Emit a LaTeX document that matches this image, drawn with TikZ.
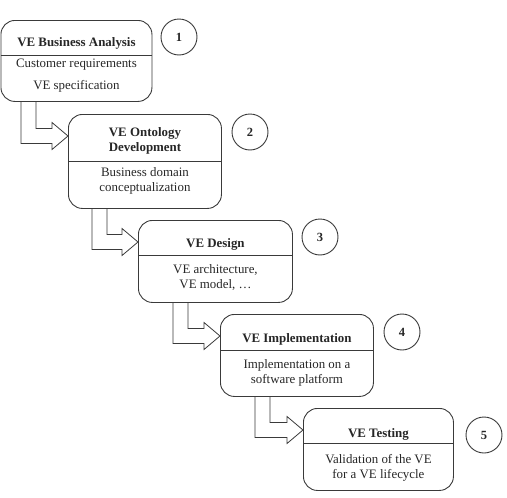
\documentclass[tikz,border=0pt]{standalone}
\usepackage{fontspec}
\setmainfont{Liberation Serif}
\usetikzlibrary{calc}
\definecolor{ln}{HTML}{3A3A3A}
\definecolor{tx}{HTML}{262626}
\tikzset{
  stage/.style={draw=ln, line width=0.9pt, rounded corners=14pt, inner sep=0pt, anchor=north west},
  ttl/.style={font=\fontsize{12.9}{15}\selectfont\bfseries, text=tx, align=center, inner sep=0pt},
  bdy/.style={font=\fontsize{12.9}{15}\selectfont, text=tx, align=center, inner sep=0pt},
  num/.style={draw=ln, line width=0.9pt, circle, minimum size=36pt, inner sep=0pt, font=\fontsize{12.5}{14}\selectfont\bfseries, text=tx},
  flow/.style={draw=ln, line width=0.8pt, line join=miter},
  divider/.style={draw=ln, line width=0.8pt},
}
\newcommand{\blockarrow}[4]{%
  \draw[flow] let \p1=($(#1.south west)+(#2,0)$), \p2=($(#3.north west)+(0,#4)$) in
  (\x1,\y1) -- (\x1,\y2-7.5pt) -- (\x2-16pt,\y2-7.5pt) -- (\x2-16pt,\y2-13.5pt) -- (\p2)
  -- (\x2-16pt,\y2+13.5pt) -- (\x2-16pt,\y2+7.5pt) -- (\x1+15pt,\y2+7.5pt) -- (\x1+15pt,\y1);}
\begin{document}
\begin{tikzpicture}[x=1pt,y=-1pt]
\useasboundingbox (0,0) rectangle (507,498);
% boxes
\node[stage, minimum width=151pt, minimum height=81pt] (b1) at (0.5,20) {};
\node[stage, minimum width=153pt, minimum height=94pt] (b2) at (68,114) {};
\node[stage, minimum width=154pt, minimum height=82pt] (b3) at (138,220) {};
\node[stage, minimum width=153pt, minimum height=82pt] (b4) at (220,314) {};
\node[stage, minimum width=150pt, minimum height=82pt] (b5) at (303,408) {};
% dividers
\draw[divider] ($(b1.north west)+(0,35)$) -- ($(b1.north east)+(0,35)$);
\draw[divider] ($(b2.north west)+(0,47)$) -- ($(b2.north east)+(0,47)$);
\draw[divider] ($(b3.north west)+(0,35)$) -- ($(b3.north east)+(0,35)$);
\draw[divider] ($(b4.north west)+(0,36)$) -- ($(b4.north east)+(0,36)$);
\draw[divider] ($(b5.north west)+(0,35)$) -- ($(b5.north east)+(0,35)$);
% texts
\node[ttl] (t1) at ($(b1.north)+(0,23)$) {VE Business Analysis};
\node[bdy] (d1a) at ($(b1.north)+(0,45)$) {Customer requirements};
\node[bdy] (d1b) at ($(b1.north)+(0,66.5)$) {VE specification};
\node[ttl] (t2) at ($(b2.north)+(0,27)$) {VE Ontology\\Development};
\node[bdy] (d2) at ($(b2.north)+(0,66.5)$) {Business domain\\conceptualization};
\node[ttl] (t3) at ($(b3.north)+(0,24)$) {VE Design};
\node[bdy] (d3) at ($(b3.north)+(0,57.5)$) {VE architecture,\\VE model, \dots};
\node[ttl] (t4) at ($(b4.north)+(0,25)$) {VE Implementation};
\node[bdy] (d4) at ($(b4.north)+(0,58.5)$) {Implementation on a\\software platform};
\node[ttl] (t5) at ($(b5.north)+(0,26)$) {VE Testing};
\node[bdy] (d5) at ($(b5.north)+(0,59.5)$) {Validation of the VE\\for a VE lifecycle};
% numbers
\node[num] (n1) at (179,37) {1};
\node[num] (n2) at (250,132) {2};
\node[num] (n3) at (320,237) {3};
\node[num] (n4) at (402,332) {4};
\node[num] (n5) at (484,435) {5};
% block arrows
\blockarrow{b1}{20.5}{b2}{22}
\blockarrow{b2}{24}{b3}{22}
\blockarrow{b3}{35}{b4}{22}
\blockarrow{b4}{35}{b5}{22}
\end{tikzpicture}
\end{document}
